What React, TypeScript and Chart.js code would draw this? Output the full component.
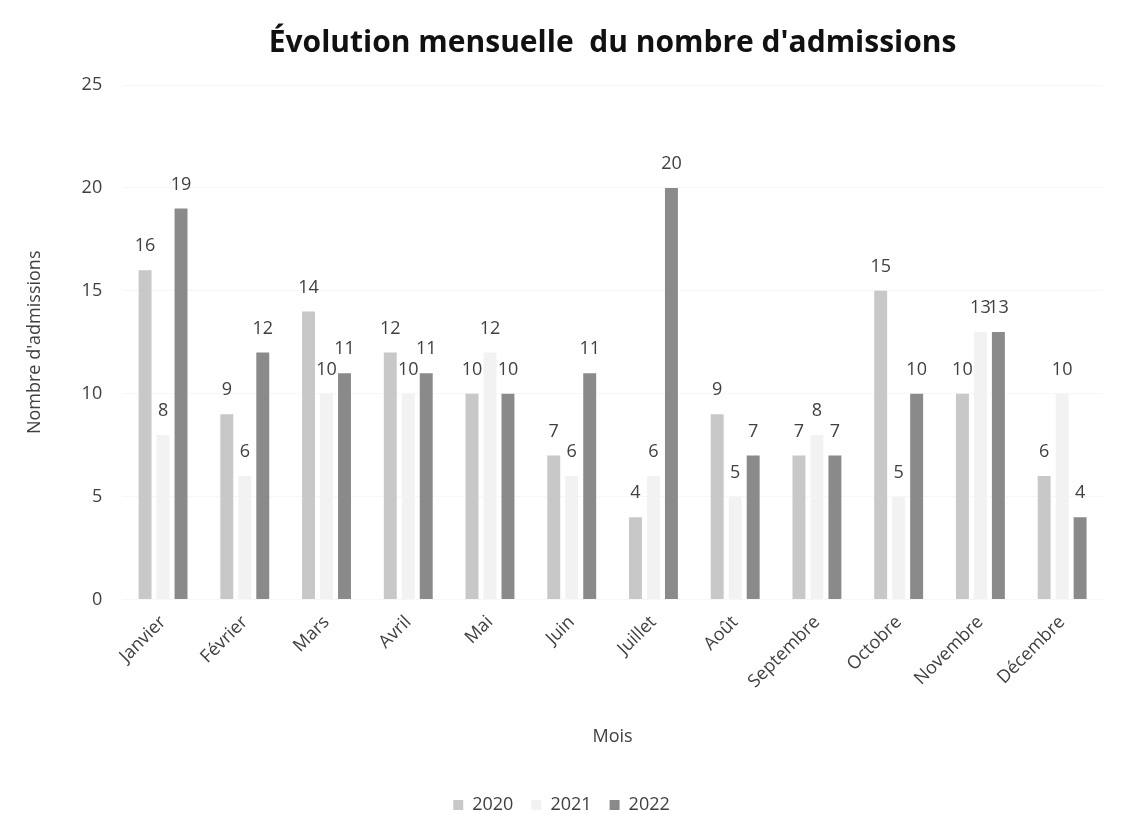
import React, { useEffect, useRef } from "react";
import { Chart, registerables } from "chart.js";

Chart.register(...registerables);

const months = ["Janvier", "Février", "Mars", "Avril", "Mai", "Juin", "Juillet", "Août", "Septembre", "Octobre", "Novembre", "Décembre"];
const values2020 = [16, 9, 14, 12, 10, 7, 4, 9, 7, 15, 10, 6];
const values2021 = [8, 6, 10, 10, 12, 6, 6, 5, 8, 5, 13, 10];
const values2022 = [19, 12, 11, 11, 10, 11, 20, 7, 7, 10, 13, 4];
const yTicks = [0, 5, 10, 15, 20, 25];
const titleText = "Évolution mensuelle  du nombre d'admissions";

const FONT = "'Open Sans', 'Noto Sans', sans-serif";

const valueLabels = {
  id: "valueLabels",
  afterDatasetsDraw(chart: any) {
    const ctx = chart.ctx;
    ctx.save();
    ctx.font = `18px ${FONT}`;
    ctx.fillStyle = "#404040";
    ctx.textAlign = "center";
    ctx.textBaseline = "middle";
    chart.data.datasets.forEach((ds: any, i: number) => {
      const meta = chart.getDatasetMeta(i);
      meta.data.forEach((bar: any, j: number) => {
        ctx.fillText(String(ds.data[j]), bar.x, bar.y - 24);
      });
    });
    ctx.restore();
  },
};

const areaTitle = {
  id: "areaTitle",
  afterDraw(chart: any) {
    const ctx = chart.ctx;
    const a = chart.chartArea;
    ctx.save();
    ctx.font = `bold 30px ${FONT}`;
    ctx.fillStyle = "#111111";
    ctx.textAlign = "center";
    ctx.textBaseline = "middle";
    ctx.fillText(titleText, (a.left + a.right) / 2, 43);
    ctx.restore();
  },
};

export default function App() {
  const ref = useRef<HTMLCanvasElement | null>(null);
  useEffect(() => {
    if (!ref.current) return;
    const chart = new Chart(ref.current, {
      type: "bar",
      data: {
        labels: months,
        datasets: [
          { label: "2020", data: values2020, backgroundColor: "#c8c8c8" },
          { label: "2021", data: values2021, backgroundColor: "#f2f2f2" },
          { label: "2022", data: values2022, backgroundColor: "#8a8a8a" },
        ],
      },
      options: {
        animation: false,
        responsive: true,
        maintainAspectRatio: false,
        layout: { padding: { top: 85, left: 20, right: 29, bottom: -10 } },
        datasets: { bar: { categoryPercentage: 0.66, barPercentage: 0.72 } },
        plugins: {
          title: { display: false },
          tooltip: { enabled: false },
          legend: {
            position: "bottom",
            labels: {
              boxWidth: 10,
              boxHeight: 10,
              padding: 18,
              color: "#404040",
              font: { family: FONT, size: 18 },
            },
          },
        },
        scales: {
          x: {
            grid: { display: false },
            border: { display: false },
            ticks: {
              color: "#404040",
              font: { family: FONT, size: 18 },
              minRotation: 45,
              maxRotation: 45,
              padding: 4,
            },
            title: {
              display: true,
              text: "Mois",
              color: "#404040",
              font: { family: FONT, size: 18 },
              padding: { top: 30, bottom: 30 },
            },
          },
          y: {
            min: 0,
            max: 25,
            afterBuildTicks(scale: any) {
              scale.ticks = yTicks.map((v) => ({ value: v }));
            },
            grid: { color: "rgba(0,0,0,0.03)", drawTicks: false },
            border: { display: false },
            ticks: {
              color: "#404040",
              font: { family: FONT, size: 18 },
              padding: 20,
            },
            title: {
              display: true,
              text: "Nombre d'admissions",
              color: "#404040",
              font: { family: FONT, size: 18 },
              padding: { bottom: 16 },
            },
          },
        },
      },
      plugins: [valueLabels, areaTitle],
    });
    return () => chart.destroy();
  }, []);
  return (
    <div style={{ position: "absolute", left: 0, top: 0, width: 1132, height: 814 }}>
      <canvas ref={ref} />
    </div>
  );
}
